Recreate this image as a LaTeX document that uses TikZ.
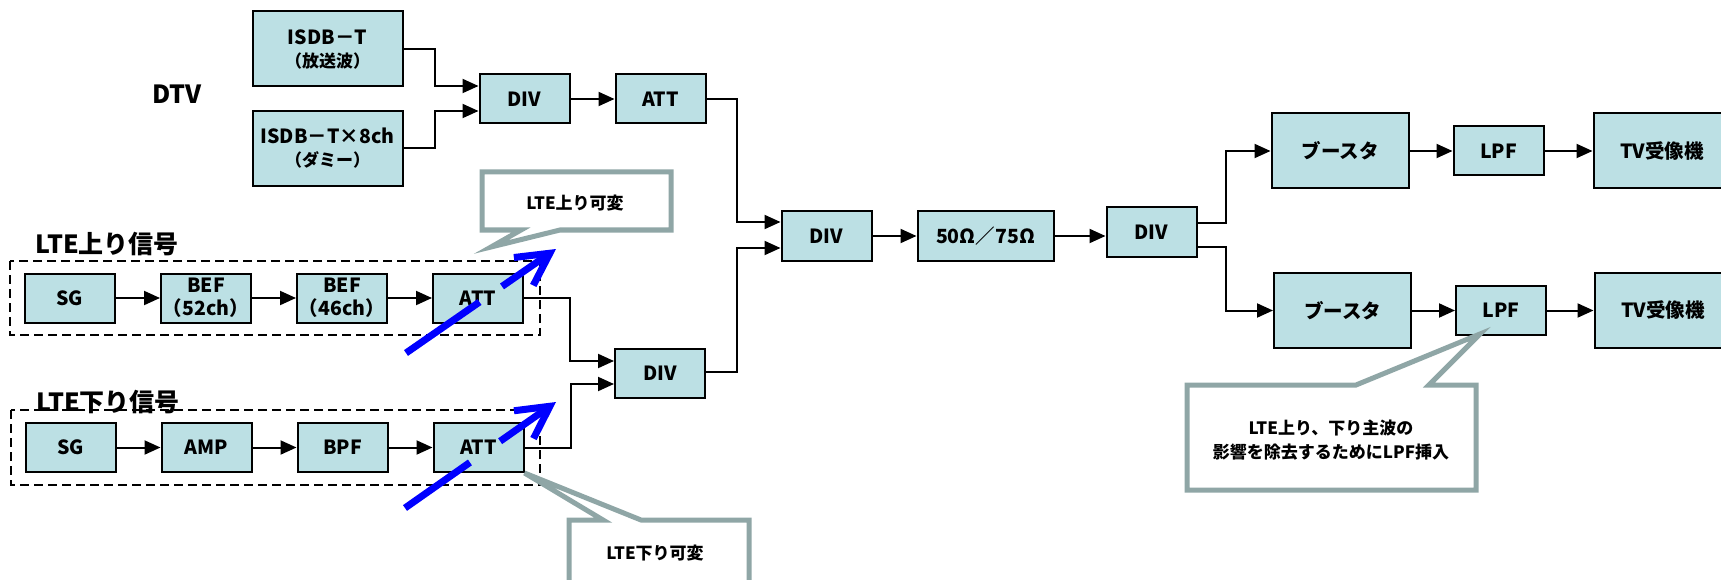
\documentclass[tikz,border=0pt]{standalone}
\usepackage{fontspec}
\setmainfont{Noto Sans CJK JP}
\usepackage{xcolor}
\usepackage{tikz}
\usetikzlibrary{arrows.meta, calc}
\definecolor{boxblue}{RGB}{188, 224, 228}
\definecolor{notegray}{RGB}{143, 166, 166}
\definecolor{tuneblue}{RGB}{0, 0, 255}
\newcommand{\blkfont}{\fontsize{19.5}{23}\selectfont\bfseries}
\newcommand{\subfont}{\fontsize{17}{20}\selectfont\bfseries}
\newcommand{\lblfont}{\fontsize{25}{28}\selectfont\bfseries}
\newcommand{\notefont}{\fontsize{17}{24}\selectfont\bfseries}
\tikzset{
  blk/.style={draw, line width=2pt, fill=boxblue, font=\blkfont, align=center, inner sep=0pt, minimum width=90pt, minimum height=49pt},
  bigblk/.style={blk, minimum width=137pt, minimum height=75pt},
  lbl/.style={font=\lblfont},
  notetext/.style={font=\notefont, align=center},
  sig/.style={line width=2pt, -{Triangle[length=16pt, width=14pt]}},
  grp/.style={line width=1.6pt, dash pattern=on 9pt off 5pt},
  note/.style={draw=notegray, line width=5pt, fill=white, line join=miter},
  tune/.style={draw=tuneblue, line width=7pt},
}

\begin{document}
\begin{tikzpicture}[x=1pt, y=-1pt]
    \clip (0,0) rectangle (1721,580);

    % DTV sources
    \node[lbl] (dtv) at (177,94) {DTV};
    \node[bigblk, minimum width=150pt] (isdb) at (327.5,49) {ISDB－T\\{\subfont （放送波）}};
    \node[bigblk, minimum width=150pt] (isdbx) at (327.5,148.5) {ISDB－T×8ch\\{\subfont （ダミー）}};
    \node[blk] (div1) at (524.5,99) {DIV};
    \node[blk] (att1) at (660.5,99) {ATT};

    % LTE uplink chain
    \node[lbl, anchor=west] (lblup) at (32,244) {LTE上り信号};
    \draw[grp] (10,261) rectangle (540,335);
    \node[blk] (sgup) at (69.5,298) {SG};
    \node[blk] (befa) at (206,298) {BEF\\（52ch）};
    \node[blk] (befb) at (342,298) {BEF\\（46ch）};
    \node[blk] (attup) at (478,298) {ATT};

    % LTE downlink chain
    \node[lbl, anchor=west] (lbldn) at (33,402) {LTE下り信号};
    \draw[grp] (11,410) rectangle (540,485);
    \node[blk] (sgdn) at (70.5,447.5) {SG};
    \node[blk] (amp) at (206.5,447.5) {AMP};
    \node[blk] (bpf) at (342.5,447.5) {BPF};
    \node[blk] (attdn) at (478.5,447.5) {ATT};

    % combining and distribution
    \node[blk] (div2) at (660,373) {DIV};
    \node[blk] (divm) at (826.5,236) {DIV};
    \node[blk, minimum width=136pt] (imp) at (985.5,236) {50Ω／75Ω};
    \node[blk] (div3) at (1151.5,232) {DIV};

    % receiver branches
    \node[bigblk] (bst1) at (1340,151) {ブースタ};
    \node[blk] (lpf1) at (1498.5,151) {LPF};
    \node[bigblk] (tv1) at (1662,151) {TV受像機};
    \node[bigblk] (bst2) at (1342.5,310.5) {ブースタ};
    \node[blk] (lpf2) at (1501,310.5) {LPF};
    \node[bigblk] (tv2) at (1663,310.5) {TV受像機};

    % connectors
    \draw[sig] (isdb.east) -- ++(31,0) |- ([yshift=13pt]div1.west);
    \draw[sig] (isdbx.east) -- ++(31,0) |- ([yshift=-12pt]div1.west);
    \draw[sig] (div1) -- (att1);
    \draw[sig] (att1.east) -- ++(30,0) |- ([yshift=14pt]divm.west);
    \draw[sig] (sgup) -- (befa);
    \draw[sig] (befa) -- (befb);
    \draw[sig] (befb) -- (attup);
    \draw[sig] (attup.east) -- ++(46,0) |- ([yshift=12pt]div2.west);
    \draw[sig] (sgdn) -- (amp);
    \draw[sig] (amp) -- (bpf);
    \draw[sig] (bpf) -- (attdn);
    \draw[sig] (attdn.east) -- ++(46,0) |- ([yshift=-11pt]div2.west);
    \draw[sig] ([yshift=1pt]div2.east) -- ++(31,0) |- ([yshift=-12pt]divm.west);
    \draw[sig] (divm) -- (imp);
    \draw[sig] (imp.east) -- (imp.east -| div3.west);
    \draw[sig] ([yshift=9pt]div3.east) -- ++(28,0) |- (bst1.west);
    \draw[sig] ([yshift=-15pt]div3.east) -- ++(28,0) |- (bst2.west);
    \draw[sig] (bst1) -- (lpf1);
    \draw[sig] (lpf1) -- (tv1);
    \draw[sig] (bst2) -- (lpf2);
    \draw[sig] (lpf2) -- (tv2);

    % variable attenuator marks
    \coordinate (vu0) at (406,353);
    \coordinate (vu1) at (556,249);
    \draw[tune] (vu0) -- ($(vu0)!0.49!(vu1)$);
    \draw[tune, -{Straight Barb[length=32pt, width=34pt]}] ($(vu0)!0.64!(vu1)$) -- (vu1);
    \coordinate (vd0) at (405,508);
    \coordinate (vd1) at (556,402);
    \draw[tune] (vd0) -- ($(vd0)!0.43!(vd1)$);
    \draw[tune, -{Straight Barb[length=32pt, width=34pt]}] ($(vd0)!0.63!(vd1)$) -- (vd1);

    % callouts
    \draw[note] (482,172) -- (671,172) -- (671,230) -- (560,230) -- (491,247) -- (521,230) -- (482,230) -- cycle;
    \node[notetext] (noteup) at (575,203) {LTE上り可変};
    \draw[note] (569,520) -- (603,520) -- (attdn.south east) -- (641,520) -- (749,520) -- (749,590) -- (569,590) -- cycle;
    \node[notetext] (notedn) at (655,553) {LTE下り可変};
    \draw[note] (1187,385) -- (1356,385) -- (1480,334) -- (1429,385) -- (1476,385) -- (1476,490) -- (1187,490) -- cycle;
    \node[notetext] (notelpf) at (1331,440) {LTE上り、下り主波の\\影響を除去するためにLPF挿入};
\end{tikzpicture}
\end{document}
